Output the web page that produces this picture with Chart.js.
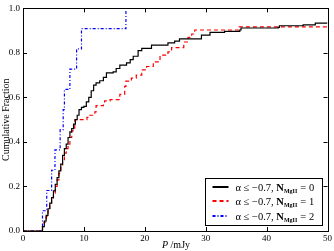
<!DOCTYPE html>
<html>
<head>
<meta charset="utf-8">
<script src="https://cdn.jsdelivr.net/npm/chart.js@4"></script>
<style>
  html, body { margin: 0; padding: 0; background: #fff; overflow: hidden; }
  #wrap { position: relative; width: 334px; height: 251px; overflow: hidden; font-family: "Liberation Serif", serif; }
  #chart { position: absolute; left: 0; top: 0; display: block; }
  #xtitle { position: absolute; left: 140px; width: 72px; top: 239px; text-align: center; font-size: 10px; line-height: 12px; color: #000; }
</style>
</head>
<body>
<div id="wrap">
  <canvas id="chart" width="334" height="251"></canvas>
  <div id="xtitle"><i>P</i> /mJy</div>
</div>
<script>
// x-axis ticks and y-axis ticks
const xTicks = [0, 10, 20, 30, 40, 50]
const yTicks = [0.0, 0.2, 0.4, 0.6, 0.8, 1.0]

// cumulative fraction, N_MgII = 0 (step corners: P, fraction)
const p0 = [0, 2.9, 3.2, 3.5, 3.8, 4.1, 4.4, 4.7, 5.0, 5.3, 5.6, 5.9, 6.2, 6.5, 6.8, 7.1, 7.4, 7.7, 8.0, 8.3, 8.6, 8.9, 9.2, 9.6, 10.0, 10.4, 10.8, 11.2, 11.6, 12.0, 12.6, 13.2, 13.7, 14.8, 15.3, 15.9, 17.0, 17.6, 18.1, 18.9, 19.5, 21.1, 23.8, 24.9, 25.7, 29.3, 30.7, 33.1, 35.6, 35.8, 41.9, 42.1, 46.0, 48.0, 50]
const f0 = [0, 0.0, 0.02, 0.045, 0.07, 0.10, 0.125, 0.15, 0.18, 0.21, 0.24, 0.27, 0.30, 0.34, 0.37, 0.39, 0.42, 0.445, 0.46, 0.48, 0.50, 0.52, 0.545, 0.555, 0.56, 0.58, 0.60, 0.63, 0.655, 0.665, 0.675, 0.69, 0.71, 0.715, 0.73, 0.745, 0.755, 0.77, 0.785, 0.81, 0.82, 0.835, 0.845, 0.853, 0.863, 0.88, 0.892, 0.897, 0.903, 0.912, 0.915, 0.922, 0.926, 0.934, 0.934]

// N_MgII = 1
const p1 = [0, 3.2, 3.5, 3.8, 4.1, 4.4, 4.7, 5.0, 5.3, 5.6, 5.9, 6.2, 6.5, 6.8, 7.1, 7.4, 7.7, 8.0, 8.5, 10.5, 10.8, 11.8, 12.0, 13.2, 13.4, 14.3, 15.9, 16.7, 16.9, 17.8, 18.6, 19.5, 20.3, 21.4, 22.5, 23.8, 24.4, 26.4, 27.1, 27.7, 28.2, 35.5, 50]
const f1 = [0, 0.02, 0.04, 0.065, 0.09, 0.12, 0.145, 0.17, 0.20, 0.23, 0.26, 0.29, 0.32, 0.35, 0.37, 0.39, 0.42, 0.45, 0.50, 0.51, 0.52, 0.535, 0.563, 0.57, 0.585, 0.59, 0.614, 0.65, 0.673, 0.687, 0.70, 0.724, 0.739, 0.76, 0.79, 0.805, 0.824, 0.849, 0.87, 0.885, 0.903, 0.917, 0.917]

// N_MgII = 2 (11 sources)
const p2 = [0, 3.2, 3.9, 4.7, 5.25, 6.1, 6.6, 6.8, 7.7, 8.8, 9.6, 16.9]
const f2 = [0, 0.091, 0.182, 0.273, 0.364, 0.455, 0.545, 0.636, 0.727, 0.818, 0.909, 1.0]

const labels = ['0', '1', '2']
const colors = ['#000000', '#ff0000', '#0000ff']
const dashes = [[], [4, 3], [3, 2, 1, 2]]

const toPts = (xs, ys) => xs.map((x, i) => ({x: x, y: ys[i]}))
const series = [toPts(p0, f0), toPts(p1, f1), toPts(p2, f2)]

// frame + inward ticks on all four sides, like matplotlib
const frameTicks = {
  id: 'frameTicks',
  afterDraw(chart) {
    const {ctx, chartArea: a, scales} = chart
    ctx.save()
    ctx.strokeStyle = '#000'
    ctx.lineWidth = 1
    ctx.strokeRect(Math.round(a.left) + 0.5, Math.round(a.top) + 0.5, Math.round(a.right - a.left), Math.round(a.bottom - a.top))
    ctx.beginPath()
    xTicks.forEach(v => {
      const px = Math.round(scales.x.getPixelForValue(v)) + 0.5
      ctx.moveTo(px, a.bottom); ctx.lineTo(px, a.bottom - 4)
      ctx.moveTo(px, a.top); ctx.lineTo(px, a.top + 4)
    })
    yTicks.forEach(v => {
      const py = Math.round(scales.y.getPixelForValue(v)) + 0.5
      ctx.moveTo(a.left, py); ctx.lineTo(a.left + 4, py)
      ctx.moveTo(a.right, py); ctx.lineTo(a.right - 4, py)
    })
    ctx.stroke()
    ctx.restore()
  }
}

// legend in the lower right, with the MgII subscript
const mathLegend = {
  id: 'mathLegend',
  afterDraw(chart) {
    const {ctx, chartArea: a} = chart
    const bx = Math.round(a.right - 123) + 0.5, by = Math.round(a.bottom - 53) + 0.5, bw = 117, bh = 47
    ctx.save()
    ctx.fillStyle = '#fff'
    ctx.fillRect(bx, by, bw, bh)
    ctx.strokeStyle = '#000'
    ctx.lineWidth = 1
    ctx.strokeRect(bx, by, bw, bh)
    ctx.textBaseline = 'alphabetic'
    labels.forEach((n, i) => {
      const cy = Math.round(by + 8 + i * 14.5)
      ctx.beginPath()
      ctx.strokeStyle = colors[i]
      ctx.lineWidth = 2
      ctx.setLineDash(dashes[i])
      ctx.moveTo(bx + 7, cy); ctx.lineTo(bx + 23, cy)
      ctx.stroke()
      ctx.setLineDash([])
      const base = cy + 4
      let x = bx + 30
      ctx.fillStyle = '#000'
      ctx.font = '10.5px "Liberation Serif"'
      const s1 = 'α ≤ −0.7, '
      ctx.fillText(s1, x, base); x += ctx.measureText(s1).width
      ctx.font = 'bold 10.5px "Liberation Serif"'
      ctx.fillText('N', x, base); x += ctx.measureText('N').width
      ctx.font = 'bold 6px "Liberation Serif"'
      ctx.fillText('MgII', x, base + 1.5); x += ctx.measureText('MgII').width + 0.5
      ctx.font = '10.5px "Liberation Serif"'
      ctx.fillText(' = ' + n, x, base)
    })
    ctx.restore()
  }
}

const tickFont = {family: 'Liberation Serif', size: 9}

new Chart(document.getElementById('chart'), {
  type: 'line',
  data: {
    datasets: series.map((d, i) => ({
      data: d,
      borderColor: colors[i],
      borderWidth: 1.2,
      borderDash: dashes[i],
      pointRadius: 0,
      stepped: 'before',
      fill: false
    }))
  },
  options: {
    responsive: false,
    animation: false,
    devicePixelRatio: 1,
    layout: {padding: {top: 4, right: 6, left: 0, bottom: 0}},
    plugins: {legend: {display: false}, tooltip: {enabled: false}},
    scales: {
      x: {
        type: 'linear', min: 0, max: 50,
        afterBuildTicks: s => { s.ticks = xTicks.map(v => ({value: v})) },
        afterFit: s => { s.height = 20 },
        grid: {display: false, drawTicks: false},
        border: {display: false},
        ticks: {font: tickFont, color: '#000', padding: 2, maxRotation: 0, callback: v => String(v)}
      },
      y: {
        type: 'linear', min: 0, max: 1,
        afterBuildTicks: s => { s.ticks = yTicks.map(v => ({value: v})) },
        afterFit: s => { s.width = 23 },
        grid: {display: false, drawTicks: false},
        border: {display: false},
        title: {display: true, text: 'Cumulative Fraction', color: '#000', font: {family: 'Liberation Serif', size: 10}, padding: {top: 0, bottom: 1}},
        ticks: {font: tickFont, color: '#000', padding: 3, callback: v => v.toFixed(1)}
      }
    }
  },
  plugins: [frameTicks, mathLegend]
})
</script>
</body>
</html>
